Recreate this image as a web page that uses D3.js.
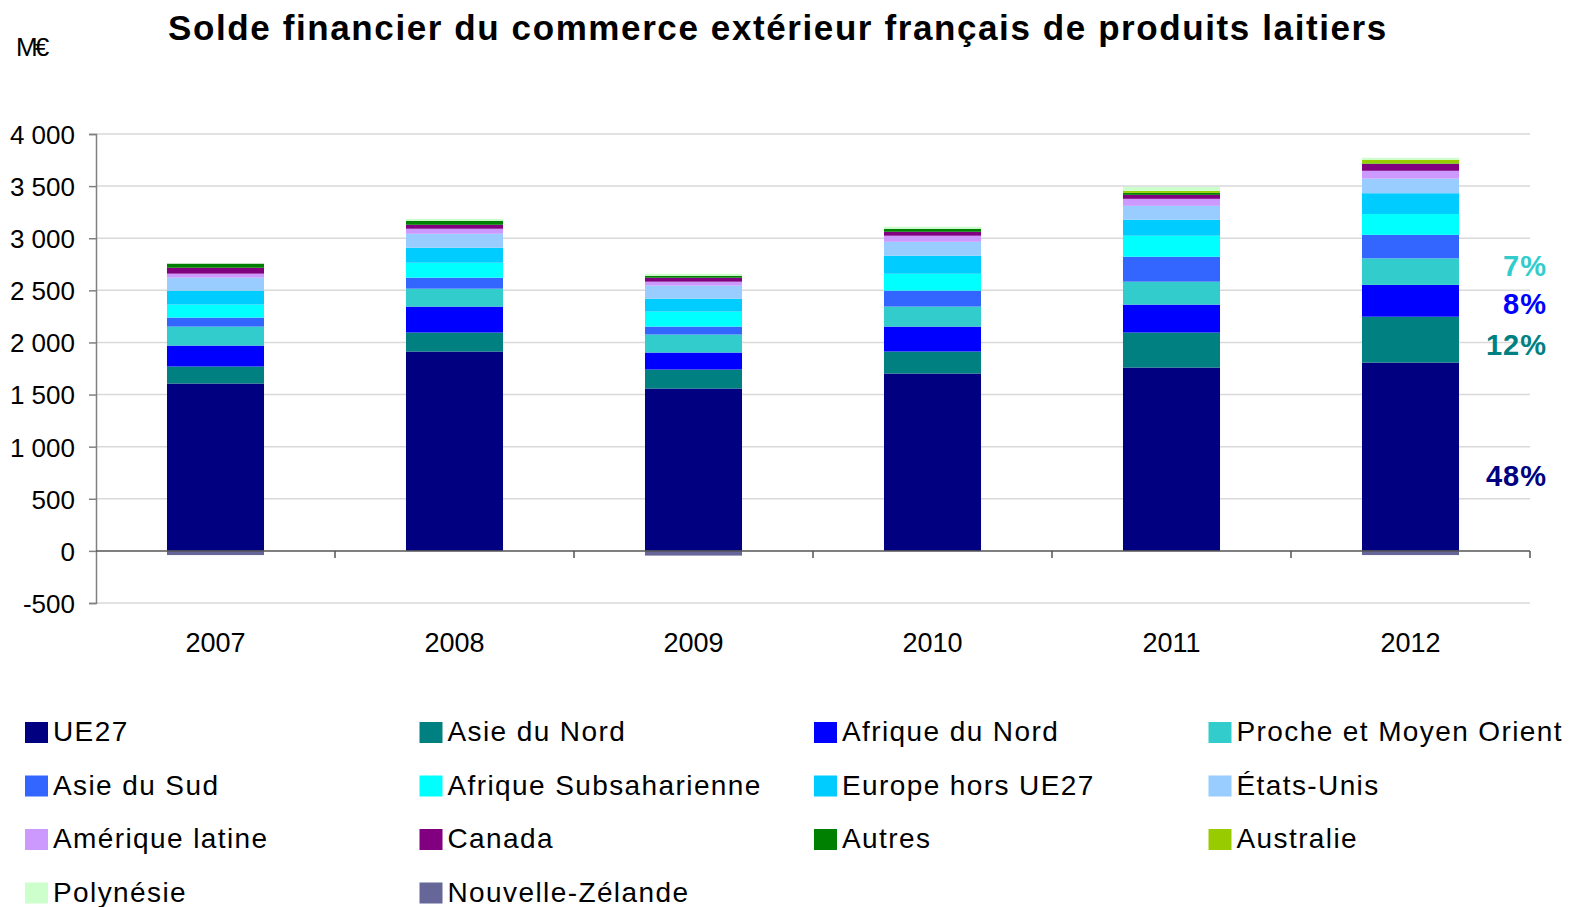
<!DOCTYPE html>
<html lang="fr">
<head>
<meta charset="utf-8">
<script src="https://cdn.jsdelivr.net/npm/d3@7"></script>
<style>
  html, body { margin: 0; padding: 0; background: #fff; }
  svg { display: block; font-family: "Liberation Sans", Arial, sans-serif; }
</style>
</head>
<body>
<svg id="chart" width="1572" height="907"></svg>
<script>
// Années
const years = ["2007", "2008", "2009", "2010", "2011", "2012"];

// Solde par zone (M€), une liste par zone, dans l'ordre des années
const ue27            = [1606, 1913, 1558, 1702, 1759, 1807];
const asieNord        = [163, 182, 182, 211, 336, 440];
const afriqueNord     = [201, 249, 163, 239, 268, 305];
const procheOrient    = [182, 172, 173, 192, 220, 255];
const asieSud         = [86, 105, 76, 153, 239, 225];
const afriqueSub      = [125, 144, 144, 162, 202, 200];
const europeHorsUE    = [134, 144, 124, 173, 153, 200];
const etatsUnis       = [125, 134, 125, 134, 134, 140];
const ameriqueLatine  = [38, 48, 38, 58, 67, 75];
const canada          = [57, 38, 38, 38, 38, 65];
const autres          = [38, 38, 19, 29, 19, 5];
const australie       = [0, 0, 0, 0, 19, 35];
const polynesie       = [0, 19, 19, 19, 38, 20];
const nouvelleZelande = [-40, 0, -45, 0, 0, -40];

const seriesNames = ["UE27", "Asie du Nord", "Afrique du Nord", "Proche et Moyen Orient",
  "Asie du Sud", "Afrique Subsaharienne", "Europe hors UE27", "États-Unis",
  "Amérique latine", "Canada", "Autres", "Australie", "Polynésie", "Nouvelle-Zélande"];
const seriesValues = [ue27, asieNord, afriqueNord, procheOrient, asieSud, afriqueSub,
  europeHorsUE, etatsUnis, ameriqueLatine, canada, autres, australie, polynesie, nouvelleZelande];
const seriesColors = ["#000080", "#008080", "#0000FF", "#33CCCC", "#3366FF", "#00FFFF",
  "#00CCFF", "#99CCFF", "#CC99FF", "#800080", "#008000", "#99CC00", "#CCFFCC", "#666699"];

// Parts affichées pour la dernière année (quatre premières zones)
const shareSeries = ["UE27", "Asie du Nord", "Afrique du Nord", "Proche et Moyen Orient"];

// Graduations de l'axe vertical
const yTicks = [-500, 0, 500, 1000, 1500, 2000, 2500, 3000, 3500, 4000];

const rows = years.map((y, i) => {
  const r = { year: y };
  seriesNames.forEach((n, k) => { r[n] = seriesValues[k][i]; });
  return r;
});

const svg = d3.select("#chart");
const plot = { left: 96, right: 1530, top: 134, bottom: 603 };

const x = d3.scaleBand().domain(years).range([plot.left, plot.right]).paddingInner(0.594).paddingOuter(0.297);
const y = d3.scaleLinear().domain([-500, 4000]).range([plot.bottom, plot.top]);
const color = d3.scaleOrdinal().domain(seriesNames).range(seriesColors);
const fmt = v => d3.format(",")(v).replace(/,/g, " ").replace("\u2212", "-");

// Titre et unité
svg.append("text").attr("x", 778).attr("y", 40).attr("text-anchor", "middle")
  .attr("font-size", 35).attr("font-weight", "bold").attr("letter-spacing", 1.6).attr("fill", "#000")
  .text("Solde financier du commerce extérieur français de produits laitiers");
svg.append("text").attr("x", 16).attr("y", 56).attr("font-size", 26)
  .attr("letter-spacing", -3).attr("fill", "#000").text("M€");

// Quadrillage horizontal
svg.append("g").selectAll("line").data(yTicks.filter(t => t !== 0)).join("line")
  .attr("x1", plot.left).attr("x2", plot.right)
  .attr("y1", d => y(d)).attr("y2", d => y(d))
  .attr("stroke", "#d9d9d9").attr("stroke-width", 1.5);

// Axe vertical
const yAxis = svg.append("g").attr("transform", `translate(${plot.left},0)`)
  .call(d3.axisLeft(y).tickValues(yTicks).tickSize(7).tickPadding(14).tickFormat(d => d === 0 ? "0" : fmt(d)));
yAxis.select(".domain").attr("stroke", "#808080").attr("stroke-width", 1.5);
yAxis.selectAll(".tick line").attr("stroke", "#808080").attr("stroke-width", 1.5);
yAxis.selectAll(".tick text").attr("font-size", 26).attr("fill", "#000")
  .attr("font-family", "Liberation Sans, Arial, sans-serif").attr("dy", "0.36em");

// Barres empilées
const stack = d3.stack().keys(seriesNames).offset(d3.stackOffsetDiverging);
const layers = stack(rows);
svg.append("g").selectAll("g").data(layers).join("g")
  .attr("fill", d => color(d.key))
  .selectAll("rect").data(d => d).join("rect")
  .attr("x", d => x(d.data.year))
  .attr("width", x.bandwidth())
  .attr("y", d => y(Math.max(d[0], d[1])))
  .attr("height", d => Math.abs(y(d[0]) - y(d[1])));

// Axe horizontal au niveau zéro
const xAxisG = svg.append("g");
xAxisG.append("line").attr("x1", plot.left).attr("x2", plot.right)
  .attr("y1", y(0)).attr("y2", y(0)).attr("stroke", "#555").attr("stroke-width", 1.5);
const step = x.step();
xAxisG.selectAll("line.tk").data(years).join("line").attr("class", "tk")
  .attr("x1", d => x(d) + x.bandwidth() / 2 + step / 2)
  .attr("x2", d => x(d) + x.bandwidth() / 2 + step / 2)
  .attr("y1", y(0)).attr("y2", y(0) + 7)
  .attr("stroke", "#555").attr("stroke-width", 1.5);
svg.append("g").selectAll("text").data(years).join("text")
  .attr("x", d => x(d) + x.bandwidth() / 2).attr("y", 652)
  .attr("text-anchor", "middle").attr("font-size", 27).attr("fill", "#000")
  .text(d => d);

// Parts de la dernière année
const last = rows[rows.length - 1];
const lastLayers = layers.map(l => ({ key: l.key, seg: l[l.length - 1] }));
const positiveTotal = d3.sum(seriesNames, n => Math.max(0, last[n]));
let prevY = Infinity;
const shareLabels = shareSeries.map(n => {
  const s = lastLayers.find(l => l.key === n).seg;
  let cy = y(s[0] + 0.4 * (s[1] - s[0]));
  if (cy > prevY - 38) cy = prevY - 38;
  prevY = cy;
  return { name: n, cy, pct: Math.round(last[n] / positiveTotal * 100) + "%" };
});
svg.append("g").selectAll("text").data(shareLabels).join("text")
  .attr("x", 1547).attr("y", d => d.cy).attr("dy", "0.36em")
  .attr("text-anchor", "end").attr("font-size", 29).attr("font-weight", "bold")
  .attr("letter-spacing", 1)
  .attr("fill", d => color(d.name)).text(d => d.pct);

// Légende : 4 colonnes
const legend = svg.append("g").selectAll("g").data(seriesNames).join("g")
  .attr("transform", (d, i) => `translate(${25 + (i % 4) * 394.5},${722 + Math.floor(i / 4) * 53.5})`);
legend.append("rect").attr("width", 23).attr("height", 21).attr("fill", d => color(d));
legend.append("text").attr("x", 28).attr("y", 19).attr("font-size", 28)
  .attr("letter-spacing", 1.4).attr("fill", "#000").text(d => d);
</script>
</body>
</html>
